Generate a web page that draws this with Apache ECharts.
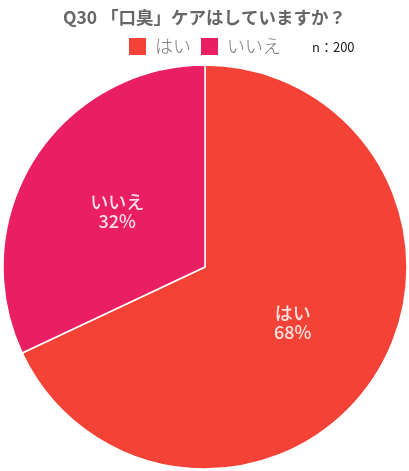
<!DOCTYPE html>
<html><head><meta charset="utf-8">
<script src="https://cdn.jsdelivr.net/npm/echarts@6/dist/echarts.min.js"></script>
<style>html,body{margin:0;padding:0;background:#fff}#c{width:409px;height:471px}</style>
</head><body><div id="c"></div>
<script>
const categories = ['はい', 'いいえ'];
const values = [68, 32];
const colors = ['#F44336', '#E91E63'];
const chart = echarts.init(document.getElementById('c'));
chart.setOption({
  animation: false,
  title: [{
    text: 'Q30 「口臭」ケアはしていますか？',
    left: 'center', top: 4,
    textStyle: {fontSize: 17.5, fontWeight: 'bold', color: '#666', fontFamily: 'Noto Sans CJK JP'}
  }, {
    text: 'n：200', left: 307, top: 36,
    textStyle: {fontSize: 13, fontWeight: 'normal', color: '#222', fontFamily: 'Noto Sans CJK JP'}
  }],
  legend: {
    data: categories, top: 31, left: 122, padding: 5,
    itemWidth: 19, itemHeight: 19, itemGap: 8, icon: 'rect',
    textStyle: {fontSize: 18, color: '#777', fontFamily: 'Noto Sans CJK JP', fontWeight: 300, padding: [0, 0, 0, 3]}
  },
  series: [{
    type: 'pie',
    center: [205, 267], radius: 202,
    startAngle: 90, clockwise: true,
    itemStyle: {borderColor: '#fff', borderWidth: 1.5},
    label: {
      show: true, position: 'inside',
      formatter: p => p.name + '\n' + p.value + '%',
      fontSize: 18, lineHeight: 19, color: 'rgba(255,255,255,0.85)',
      fontFamily: 'Noto Sans CJK JP', fontWeight: 500
    },
    data: categories.map((n, i) => ({name: n, value: values[i], itemStyle: {color: colors[i]}}))
  }]
});
</script></body></html>
